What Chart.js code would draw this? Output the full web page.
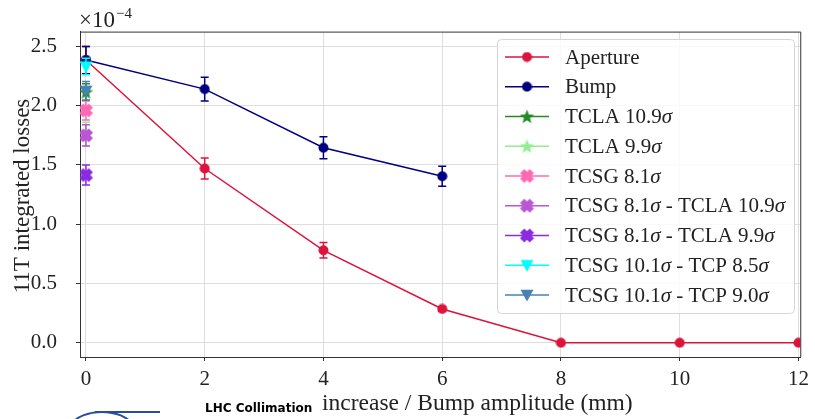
<!DOCTYPE html>
<html>
<head>
<meta charset="utf-8">
<script src="https://cdn.jsdelivr.net/npm/chart.js@4.4.1/dist/chart.umd.min.js"></script>
<style>
  html, body { margin: 0; padding: 0; background: #fff; }
  #wrap { width: 815px; height: 419px; }
</style>
</head>
<body>
<div id="wrap"><canvas id="losses"></canvas></div>
<script>
const xTicks = [0, 2, 4, 6, 8, 10, 12]
const yTicks = [0, 0.5, 1, 1.5, 2, 2.5]

const apertureX = [0, 2, 4, 6, 8, 10, 12]
const apertureY = [2.385, 1.47, 0.78, 0.285, 0, 0, 0]
const apertureErr = [0.115, 0.089, 0.065, 0.02, 0, 0, 0]

const bumpX = [0, 2, 4, 6]
const bumpY = [2.385, 2.14, 1.645, 1.405]
const bumpErr = [0.115, 0.1, 0.092, 0.085]

// collimator settings, all taken at zero amplitude
const settingLabels = ['TCLA 10.9σ', 'TCLA 9.9σ', 'TCSG 8.1σ', 'TCSG 8.1σ - TCLA 10.9σ',
  'TCSG 8.1σ - TCLA 9.9σ', 'TCSG 10.1σ - TCP 8.5σ', 'TCSG 10.1σ - TCP 9.0σ']
const settingX = [0, 0, 0, 0, 0, 0, 0]
const settingY = [2.115, 1.76, 1.96, 1.75, 1.415, 2.33, 2.125]
const settingErr = [0.07, 0.1, 0.08, 0.09, 0.085, 0.07, 0.08]

const settingColors = ['#228b22', '#90ee90', '#ff69b4', '#ba55d3', '#8a2be2', '#00ffff', '#4682b4']
const settingShapes = ['star', 'star', 'x', 'x', 'x', 'tri', 'tri']

const SERIF = "'Liberation Serif', 'DejaVu Serif', serif"
Chart.defaults.font.family = SERIF
Chart.defaults.color = '#222'

function marker (shape, color, size) {
  const c = document.createElement('canvas')
  c.width = size
  c.height = size
  const g = c.getContext('2d')
  const h = size / 2
  g.fillStyle = color
  g.beginPath()
  if (shape === 'circle') {
    g.arc(h, h, h - 0.5, 0, Math.PI * 2)
  } else if (shape === 'star') {
    for (let i = 0; i < 10; i++) {
      const r = i % 2 ? h * 0.42 : h
      const a = -Math.PI / 2 + i * Math.PI / 5
      g.lineTo(h + r * Math.cos(a), h + 0.08 * h + r * Math.sin(a))
    }
  } else if (shape === 'x') {
    const w = 0.22
    const plus = [[w, w], [w, 0.5], [-w, 0.5], [-w, w], [-0.5, w], [-0.5, -w],
      [-w, -w], [-w, -0.5], [w, -0.5], [w, -w], [0.5, -w], [0.5, w]]
    const s = (h - 0.5) / ((0.5 + w) / Math.SQRT2)
    plus.forEach(([px, py]) => {
      const rx = (px - py) / Math.SQRT2
      const ry = (px + py) / Math.SQRT2
      g.lineTo(h + rx * s, h + ry * s)
    })
  } else if (shape === 'tri') {
    g.moveTo(0.5, size * 0.12)
    g.lineTo(size - 0.5, size * 0.12)
    g.lineTo(h, size - 0.5)
  }
  g.closePath()
  g.fill()
  return c
}

const markerSize = { circle: 11, star: 15, x: 15, tri: 14 }

function points (xs, ys) {
  return xs.map((x, i) => ({ x, y: ys[i] }))
}

const series = [
  { label: 'Aperture', color: '#dc143c', shape: 'circle', data: points(apertureX, apertureY), errors: apertureErr, showLine: true },
  { label: 'Bump', color: '#000080', shape: 'circle', data: points(bumpX, bumpY), errors: bumpErr, showLine: true }
]
settingLabels.forEach((label, i) => {
  series.push({
    label,
    color: settingColors[i],
    shape: settingShapes[i],
    data: points([settingX[i]], [settingY[i]]),
    errors: [settingErr[i]],
    showLine: false
  })
})

const datasets = series.map((s, i) => ({
  label: s.label,
  data: s.data,
  errors: s.errors,
  showLine: s.showLine,
  borderColor: s.color,
  backgroundColor: s.color,
  borderWidth: 1.5,
  pointStyle: marker(s.shape, s.color, markerSize[s.shape]),
  pointRadius: 6,
  // matplotlib puts later series on top
  order: series.length - i
}))

const errorBars = {
  id: 'errorBars',
  beforeDatasetDraw (chart, args) {
    const ds = chart.data.datasets[args.index]
    const { ctx, chartArea, scales } = chart
    ctx.save()
    ctx.beginPath()
    ctx.rect(chartArea.left, chartArea.top, chartArea.right - chartArea.left, chartArea.bottom - chartArea.top)
    ctx.clip()
    ctx.strokeStyle = ds.borderColor
    ctx.lineWidth = 1.5
    ds.data.forEach((p, i) => {
      const e = ds.errors[i]
      if (!e) return
      const x = scales.x.getPixelForValue(p.x)
      const top = scales.y.getPixelForValue(p.y + e)
      const bot = scales.y.getPixelForValue(p.y - e)
      ctx.beginPath()
      ctx.moveTo(x, top)
      ctx.lineTo(x, bot)
      ctx.moveTo(x - 4, top)
      ctx.lineTo(x + 4, top)
      ctx.moveTo(x - 4, bot)
      ctx.lineTo(x + 4, bot)
      ctx.stroke()
    })
    ctx.restore()
  }
}

function sigmaText (ctx, text, x, y, size) {
  // sigma is typeset in math italic
  const parts = text.split('σ')
  let cx = x
  parts.forEach((part, i) => {
    ctx.font = `${size}px ${SERIF}`
    ctx.fillText(part, cx, y)
    cx += ctx.measureText(part).width
    if (i < parts.length - 1) {
      ctx.font = `italic ${size}px ${SERIF}`
      ctx.fillText('σ', cx, y)
      cx += ctx.measureText('σ').width
    }
  })
}

const frame = {
  id: 'frame',
  afterDraw (chart) {
    const { ctx, chartArea } = chart
    ctx.save()

    // top and right spines
    ctx.strokeStyle = '#333'
    ctx.lineWidth = 1
    ctx.beginPath()
    ctx.moveTo(chartArea.left, chartArea.top + 0.5)
    ctx.lineTo(chartArea.right + 0.5, chartArea.top + 0.5)
    ctx.lineTo(chartArea.right + 0.5, chartArea.bottom)
    ctx.stroke()

    // legend box
    ctx.beginPath()
    ctx.roundRect(497.5, 39.5, 297, 274, 4)
    ctx.fillStyle = 'rgba(255,255,255,0.8)'
    ctx.fill()
    ctx.strokeStyle = '#d6d6d6'
    ctx.stroke()
    ctx.textBaseline = 'middle'
    series.forEach((s, i) => {
      const y = 57 + i * 29.75
      ctx.strokeStyle = s.color
      ctx.lineWidth = 1.5
      ctx.beginPath()
      ctx.moveTo(505, y)
      ctx.lineTo(549, y)
      ctx.stroke()
      const m = chart.data.datasets[i].pointStyle
      ctx.drawImage(m, 527 - m.width / 2, y - m.height / 2)
      ctx.fillStyle = '#222'
      sigmaText(ctx, s.label, 565, y + 1, 21)
    })

    // offset text of the y axis
    ctx.fillStyle = '#222'
    ctx.textBaseline = 'alphabetic'
    ctx.font = `23px ${SERIF}`
    ctx.fillText('×10', 79, 27)
    const w = ctx.measureText('×10').width
    ctx.font = `15px ${SERIF}`
    ctx.fillText('−4', 79 + w + 1, 18)

    // axis titles
    ctx.font = `23px ${SERIF}`
    ctx.save()
    ctx.translate(23, 196)
    ctx.rotate(-Math.PI / 2)
    ctx.textAlign = 'center'
    ctx.textBaseline = 'middle'
    ctx.fillText('11T integrated losses', 0, 0)
    ctx.restore()

    ctx.font = `23.5px ${SERIF}`
    ctx.textBaseline = 'middle'
    ctx.fillText('increase / Bump amplitude (mm)', 322, 404)

    // slide logo lying over the start of the x title
    ctx.fillStyle = '#000'
    ctx.font = "bold 12px 'DejaVu Sans', sans-serif"
    ctx.fillText('LHC Collimation', 205, 409)
    ctx.strokeStyle = '#2a4c9c'
    ctx.lineWidth = 2
    ctx.beginPath()
    ctx.ellipse(102, 430, 32, 18, 0, Math.PI * 1.05, Math.PI * 1.95)
    ctx.stroke()
    ctx.beginPath()
    ctx.moveTo(95, 412)
    ctx.lineTo(160, 412)
    ctx.stroke()
    ctx.restore()
  }
}

new Chart(document.getElementById('losses'), {
  type: 'scatter',
  data: { datasets },
  options: {
    responsive: true,
    maintainAspectRatio: false,
    animation: false,
    layout: {
      padding: { top: 28, right: 10, left: 0, bottom: 0 }
    },
    scales: {
      x: {
        type: 'linear',
        min: -0.1,
        max: 12.03,
        afterBuildTicks: (scale) => { scale.ticks = xTicks.map((v) => ({ value: v })) },
        afterFit: (scale) => { scale.height = 62 },
        grid: { color: '#dedede', lineWidth: 1, tickLength: 4, tickColor: '#333' },
        border: { display: true, color: '#333', width: 1 },
        ticks: { font: { size: 21 }, padding: 6, color: '#222', maxRotation: 0 }
      },
      y: {
        type: 'linear',
        min: -0.12,
        max: 2.625,
        afterBuildTicks: (scale) => { scale.ticks = yTicks.map((v) => ({ value: v })) },
        afterFit: (scale) => { scale.width = 80 },
        grid: { color: '#dedede', lineWidth: 1, tickLength: 4, tickColor: '#333' },
        border: { display: true, color: '#333', width: 1 },
        ticks: {
          font: { size: 21 },
          padding: 19,
          color: '#222',
          callback: (v) => v.toFixed(1)
        }
      }
    },
    plugins: {
      legend: { display: false },
      tooltip: { enabled: false }
    }
  },
  plugins: [errorBars, frame]
})
</script>
</body>
</html>
